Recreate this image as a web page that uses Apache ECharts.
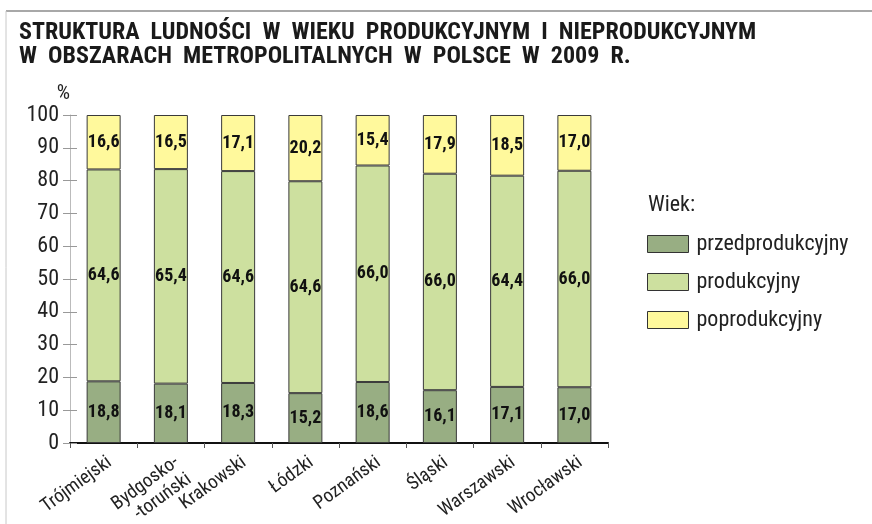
<!DOCTYPE html>
<html>
<head>
<meta charset="utf-8">
<script src="https://cdn.jsdelivr.net/npm/echarts@6/dist/echarts.min.js"></script>
<style>
  html, body { margin: 0; padding: 0; background: #fff; }
  #chart { width: 872px; height: 524px; }
</style>
</head>
<body>
<div id="chart"></div>
<script>
// obszary metropolitalne
const categories = ["Trójmiejski", "Bydgosko-\n-toruński", "Krakowski", "Łódzki", "Poznański", "Śląski", "Warszawski", "Wrocławski"];
const przedprodukcyjny = [18.8, 18.1, 18.3, 15.2, 18.6, 16.1, 17.1, 17.0];
const produkcyjny = [64.6, 65.4, 64.6, 64.6, 66.0, 66.0, 64.4, 66.0];
const poprodukcyjny = [16.6, 16.5, 17.1, 20.2, 15.4, 17.9, 18.5, 17.0];
const yTicks = [0, 10, 20, 30, 40, 50, 60, 70, 80, 90, 100];

const font = "'Roboto Condensed', 'Liberation Sans', Arial, sans-serif";
const colors = ["#98ae83", "#cde09f", "#fff99c"];

const chart = echarts.init(document.getElementById("chart"));

function barSeries(name, data, color) {
  return {
    name: name,
    type: "bar",
    stack: "total",
    barWidth: 34,
    data: data,
    itemStyle: { color: color, borderColor: "#3a3a3a", borderWidth: 1 },
    label: {
      show: true,
      position: "inside",
      formatter: (p) => p.value.toFixed(1).replace(".", ","),
      fontFamily: font,
      fontWeight: "bold",
      fontSize: 18,
      color: "#111",
    },
  };
}

const option = {
  animation: false,
  backgroundColor: "#fff",
  title: {
    text: "STRUKTURA  LUDNOŚCI  W  WIEKU  PRODUKCYJNYM  I  NIEPRODUKCYJNYM\nW  OBSZARACH  METROPOLITALNYCH  W  POLSCE  W  2009  R.",
    left: 19,
    top: 21,
    padding: 0,
    textStyle: { fontFamily: font, fontWeight: "bold", fontSize: 24, color: "#1a1a1a", lineHeight: 24 },
  },
  legend: {
    orient: "vertical",
    left: 647,
    top: 233,
    padding: 0,
    itemWidth: 41,
    itemHeight: 17,
    itemGap: 16,
    icon: "rect",
    itemStyle: { borderColor: "#333", borderWidth: 1 },
    textStyle: { fontFamily: font, fontSize: 22, color: "#222", padding: [0, 0, 0, 3] },
    data: ["przedprodukcyjny", "produkcyjny", "poprodukcyjny"],
  },
  graphic: [
    { type: "line", shape: { x1: 6, y1: 11, x2: 872, y2: 11 }, style: { stroke: "#a8a8a8", lineWidth: 2 } },
    { type: "line", shape: { x1: 6, y1: 11, x2: 6, y2: 524 }, style: { stroke: "#c8c8c8", lineWidth: 1 } },
    { type: "text", left: 648, top: 194, style: { text: "Wiek:", font: "22px " + font, fill: "#222" } },
  ],
  grid: { left: 70, right: 264, top: 115, bottom: 81, containLabel: false, outerBoundsMode: "none" },
  xAxis: {
    type: "category",
    data: categories,
    axisLine: { lineStyle: { color: "#111", width: 2 } },
    axisTick: { show: true, lineStyle: { color: "#555" }, length: 5 },
    axisLabel: {
      rotate: 36,
      interval: 0,
      fontFamily: font,
      fontSize: 19,
      color: "#222",
      lineHeight: 21,
      margin: 9,
      verticalAlign: "top",
    },
  },
  yAxis: [
    {
      type: "value",
      min: 0,
      max: 100,
      interval: 10,
      name: "%",
      nameGap: 8,
      nameTextStyle: { fontFamily: font, fontSize: 21, color: "#222", align: "right" },
      axisLine: { show: true, lineStyle: { color: "#bbb" } },
      axisTick: { show: true, length: 7, lineStyle: { color: "#999" } },
      splitLine: { show: false },
      axisLabel: {
        fontFamily: font,
        fontSize: 22,
        color: "#222",
        margin: 11,
        formatter: (v) => (yTicks.includes(v) ? String(v) : ""),
      },
    },
    {
      // ticks reaching into the plot, so they cross the axis
      type: "value",
      min: 0,
      max: 100,
      interval: 10,
      position: "left",
      axisLine: { show: false },
      axisTick: { show: true, inside: true, length: 7, lineStyle: { color: "#999" } },
      axisLabel: { show: false },
      splitLine: { show: false },
    },
  ],
  series: [
    barSeries("przedprodukcyjny", przedprodukcyjny, colors[0]),
    barSeries("produkcyjny", produkcyjny, colors[1]),
    barSeries("poprodukcyjny", poprodukcyjny, colors[2]),
  ],
};

chart.setOption(option);
</script>
</body>
</html>
